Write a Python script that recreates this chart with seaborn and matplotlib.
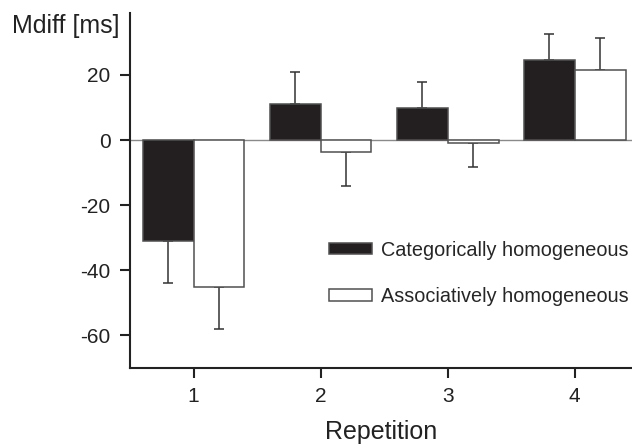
import numpy as np
import pandas as pd
import matplotlib
matplotlib.use('Agg')
import matplotlib.pyplot as plt
import seaborn as sns

repetitions = ['1', '2', '3', '4']
conditions = ['Categorically homogeneous', 'Associatively homogeneous']
cat_mean = [-31.0, 11.1, 9.7, 24.6]
cat_err = [13.0, 9.8, 8.1, 7.9]
assoc_mean = [-45.2, -3.7, -0.8, 21.5]
assoc_err = [12.8, 10.5, 7.5, 9.7]

df = pd.DataFrame({
    'Repetition': repetitions * 2,
    'condition': [conditions[0]] * 4 + [conditions[1]] * 4,
    'Mdiff': cat_mean + assoc_mean,
})

sns.set_style('ticks')
plt.rcParams['font.family'] = ['Liberation Sans', 'DejaVu Sans']
plt.rcParams['axes.unicode_minus'] = False

fig = plt.figure(figsize=(6.32, 4.48), dpi=100)
ax = fig.add_axes([0.2057, 0.1786, 0.7943, 0.7924])

ax.axhline(0, color='#8a8a8a', lw=1.0, zorder=0)

sns.barplot(data=df, x='Repetition', y='Mdiff', hue='condition',
            hue_order=conditions, order=repetitions,
            palette={conditions[0]: '#231f20', conditions[1]: 'white'},
            edgecolor='#505050', linewidth=1.1, errorbar=None,
            saturation=1, width=0.8, ax=ax, zorder=2)

# one-sided error bars pointing away from zero
for cont, means, errs in zip(ax.containers, [cat_mean, assoc_mean], [cat_err, assoc_err]):
    xs = [p.get_x() + p.get_width() / 2 for p in cont.patches]
    lower = [e if m < 0 else 0 for m, e in zip(means, errs)]
    upper = [e if m >= 0 else 0 for m, e in zip(means, errs)]
    ax.errorbar(xs, means, yerr=[lower, upper], fmt='none', ecolor='#333333',
                elinewidth=1.1, capsize=3.6, capthick=1.1, zorder=1)

ax.set_xlim(-0.5, 3.45)
ax.set_ylim(-70, 39)
ax.set_yticks([-60, -40, -20, 0, 20])

sns.despine(ax=ax)
for s in ['left', 'bottom']:
    ax.spines[s].set_linewidth(1.5)
    ax.spines[s].set_color('#222222')
ax.tick_params(axis='both', length=7, width=1.5, color='#222222',
               labelsize=15, pad=7, labelcolor='#222222')

ax.set_xlabel('Repetition', fontsize=18, color='#222222', labelpad=10)
ax.set_ylabel('Mdiff [ms]', fontsize=18, color='#222222', rotation=0,
              ha='right', va='center')
ax.yaxis.set_label_coords(-0.02, 0.963)

ax.legend(loc='upper left', bbox_to_anchor=(0.376, 0.387), frameon=False,
          fontsize=14.3, handlelength=2.2, handleheight=0.55,
          labelspacing=1.4, handletextpad=0.45, borderpad=0)

fig.savefig('out.png', dpi=100)
